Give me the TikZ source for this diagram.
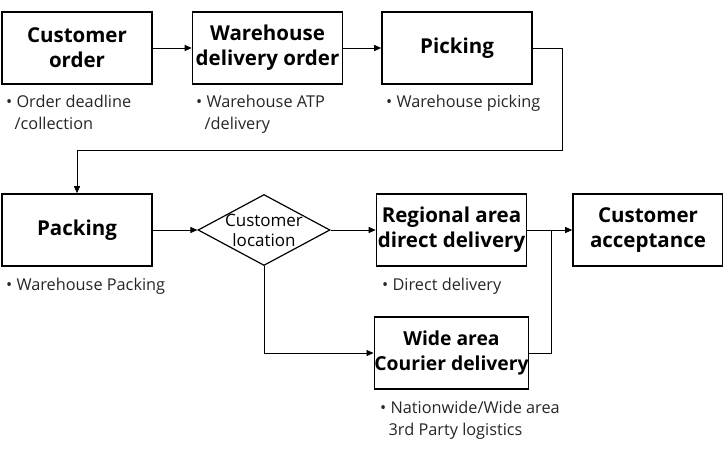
\documentclass[tikz,border=0pt]{standalone}
\usepackage{fontspec}
\setmainfont{Open Sans}
\usetikzlibrary{shapes.geometric,arrows.meta}
\begin{document}
\begin{tikzpicture}[x=1pt,y=-1pt,
  box/.style={draw,line width=1.6pt,minimum width=150pt,minimum height=72pt,inner sep=0pt,align=center,font=\fontsize{20.5}{25}\selectfont\bfseries},
  note/.style={anchor=north west,align=left,inner sep=0pt,font=\fontsize{16.3}{22}\selectfont,text=black!85},
  conn/.style={line width=0.8pt,-{Triangle[length=7pt,width=6pt]}},
  plain/.style={line width=0.8pt}]
\useasboundingbox (0,0) rectangle (723,461);
\node[box] (co) at (77,48) {Customer\\order};
\node[box] (wd) at (267.5,48) {Warehouse\\delivery order};
\node[box] (pi) at (457,48) {Picking};
\node[box] (pa) at (77,230) {Packing};
\node[draw,diamond,line width=1.2pt,minimum width=132pt,minimum height=71pt,aspect=1.86,inner sep=0pt] (dl) at (264,230) {};
\node[align=center,inner sep=0pt,font=\fontsize{17}{20}\selectfont] (dlt) at (dl.center) {Customer\\location};
\node[box] (rd) at (451.5,230) {Regional area\\direct delivery};
\node[box] (ca) at (648,230) {Customer\\acceptance};
\node[box,font=\fontsize{19.3}{25}\selectfont\bfseries] (wa) at (451.5,353) {Wide area\\Courier delivery};
\node[note] (n1) at (6,95) {• Order deadline\\\ \ /collection};
\node[note] (n2) at (196,95) {• Warehouse ATP\\\ \ /delivery};
\node[note] (n3) at (386,95) {• Warehouse picking};
\node[note] (n4) at (6,278) {• Warehouse Packing};
\node[note] (n5) at (382,278) {• Direct delivery};
\node[note] (n6) at (380,401) {• Nationwide/Wide area\\\ \ 3rd Party logistics};
\coordinate (m1) at (551,230);
\draw[conn] (co) -- (wd);
\draw[conn] (wd) -- (pi);
\draw[conn] (pi.east) -| (562,150) -| (pa.north);
\draw[conn] (pa) -- (dl);
\draw[conn] (dl) -- (rd);
\draw[conn] (dl.south) |- (wa.west);
\draw[conn] (rd) -- (ca);
\draw[plain] (wa.east) -| (m1);
\end{tikzpicture}
\end{document}
